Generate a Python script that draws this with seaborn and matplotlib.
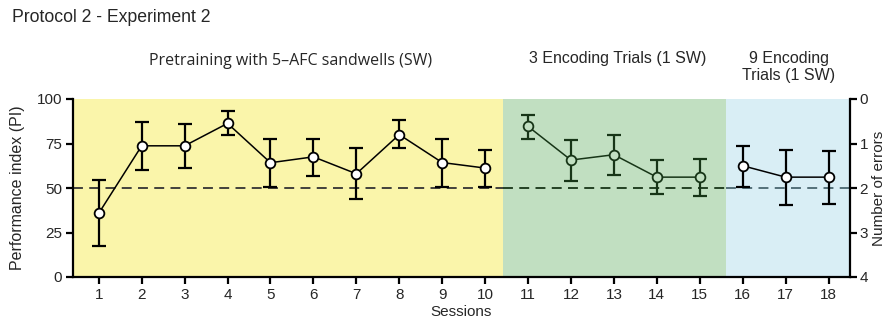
import matplotlib
matplotlib.use("Agg")
import matplotlib.pyplot as plt
import seaborn as sns
import numpy as np
import pandas as pd

sessions = list(range(1, 19))
pi_mean = [35.8, 73.7, 73.7, 86.3, 64.2, 67.5, 58.0, 80.0, 64.3, 61.2,
           84.6, 65.7, 68.7, 56.1, 56.1, 62.5, 56.1, 56.1]
err_upper = [54.4, 87.0, 86.0, 93.0, 77.7, 77.7, 72.2, 88.0, 77.7, 71.6,
             91.0, 77.1, 80.0, 65.5, 66.4, 73.7, 71.5, 70.9]
err_lower = [17.4, 60.0, 61.3, 79.7, 50.6, 57.0, 43.9, 72.2, 50.6, 50.3,
             77.7, 54.2, 57.4, 46.9, 45.6, 50.5, 40.5, 41.2]
phase = ["Pretraining"] * 10 + ["3 Encoding"] * 5 + ["9 Encoding"] * 3
phase_labels = ["Pretraining with 5\u2013AFC sandwells (SW)",
                "3 Encoding Trials (1 SW)",
                "9 Encoding\nTrials (1 SW)"]
left_ticks = [0, 25, 50, 75, 100]
right_ticks = [0, 1, 2, 3, 4]

df = pd.DataFrame({"session": sessions, "pi": pi_mean, "hi": err_upper,
                   "lo": err_lower, "phase": phase})

sns.set_theme(style="ticks")
plt.rcParams["font.family"] = ["Liberation Sans", "DejaVu Sans"]

fig = plt.figure(figsize=(8.88, 3.23), dpi=100)
ax = fig.add_axes([73 / 888, 1 - 277 / 323, (850 - 73) / 888, (277 - 99) / 323])

yellow = "#faf5aa"
green = "#c1dfc1"
blue = "#d9eef5"
dkgreen = "#173517"

ax.axvspan(0.4, 10.42, color=yellow, lw=0, zorder=0)
ax.axvspan(10.42, 15.6, color=green, lw=0, zorder=0)
ax.axvspan(15.6, 18.5, color=blue, lw=0, zorder=0)

ax.hlines(50, 0.4, 10.42, colors="#333333", linestyles=(0, (5.5, 3.5)), lw=1.3, zorder=1)
ax.hlines(50, 10.42, 15.6, colors=dkgreen, linestyles=(0, (5.5, 3.5)), lw=1.3, zorder=1)
ax.hlines(50, 15.6, 18.5, colors="#4a6670", linestyles=(0, (5.5, 3.5)), lw=1.3, zorder=1)

styles = {"Pretraining": ("black", "white"),
          "3 Encoding": (dkgreen, green),
          "9 Encoding": ("black", "white")}
for ph, (lc, fc) in styles.items():
    sub = df[df["phase"] == ph]
    ax.errorbar(sub["session"], sub["pi"],
                yerr=[sub["pi"] - sub["lo"], sub["hi"] - sub["pi"]],
                fmt="none", ecolor=lc, elinewidth=1.6, capsize=5, capthick=1.6,
                zorder=2)
    sns.lineplot(data=sub, x="session", y="pi", ax=ax, color=lc, lw=1.1,
                 marker="o", markersize=7, markerfacecolor=fc,
                 markeredgecolor=lc, markeredgewidth=1.3, zorder=3)

ax.set_xlim(0.4, 18.5)
ax.set_ylim(0, 100)
ax.set_xticks(sessions)
ax.set_yticks(left_ticks)
ax.set_xlabel("Sessions", fontsize=11, labelpad=2)
ax.set_ylabel("Performance index (PI)", fontsize=11.5, labelpad=8)
ax.tick_params(axis="both", labelsize=11, length=5, width=1.6, color="black",
               pad=3)
ax.spines["top"].set_visible(False)
for s in ["left", "bottom", "right"]:
    ax.spines[s].set_linewidth(1.6)
    ax.spines[s].set_color("black")
ax.spines["right"].set_visible(False)

ax2 = ax.twinx()
ax2.set_ylim(4, 0)
ax2.set_yticks(right_ticks)
ax2.tick_params(axis="y", labelsize=11, length=5, width=1.6, color="black", pad=2)
for s in ["top", "left", "bottom"]:
    ax2.spines[s].set_visible(False)
ax2.spines["right"].set_linewidth(1.6)
ax2.spines["right"].set_color("black")
ax2.set_ylabel("Number of errors", fontsize=11, labelpad=3)

fig.text(12 / 888, 1 - 18 / 323, "Protocol 2 - Experiment 2", fontsize=12.7,
         ha="left", va="center")
fig.text(291 / 888, 1 - 61 / 323, phase_labels[0], fontsize=11.5,
         family=["Open Sans", "DejaVu Sans"], ha="center", va="center")
fig.text(618 / 888, 1 - 59 / 323, phase_labels[1], fontsize=11.5,
         ha="center", va="center")
fig.text(789 / 888, 1 - 67 / 323, phase_labels[2], fontsize=11.5,
         ha="center", va="center", linespacing=1.15)

fig.savefig("out.png", dpi=100)
